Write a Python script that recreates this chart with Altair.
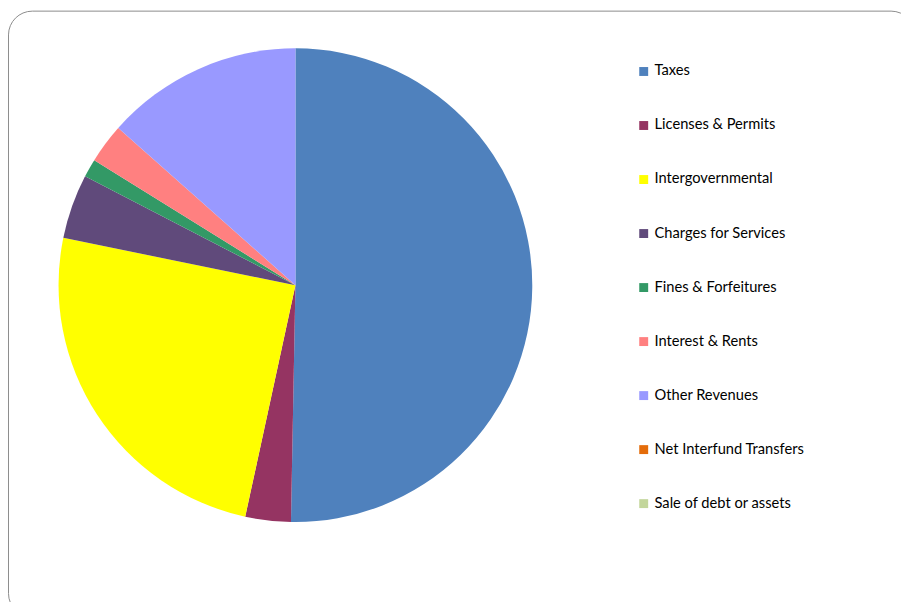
import altair as alt
import pandas as pd

categories = [
    "Taxes",
    "Licenses & Permits",
    "Intergovernmental",
    "Charges for Services",
    "Fines & Forfeitures",
    "Interest & Rents",
    "Other Revenues",
    "Net Interfund Transfers",
    "Sale of debt or assets",
]
shares = [50.3, 3.1, 24.8, 4.4, 1.25, 2.7, 13.45, 0.0, 0.0]
colors = ["#4F81BD", "#953462", "#FFFF00", "#604A7B", "#339966",
          "#FF8080", "#9999FF", "#E46C0A", "#C3D69B"]

df = pd.DataFrame({
    "category": categories,
    "share": shares,
    "order": list(range(len(categories))),
})

frame = alt.Chart(pd.DataFrame({"a": [0]})).mark_rect(
    fill="white", stroke="#8c8c8c", strokeWidth=1, cornerRadius=24
).encode(
    x=alt.value(0.5), x2=alt.value(915), y=alt.value(0.5), y2=alt.value(612)
)

pie = alt.Chart(df).mark_arc(radius=239).encode(
    theta=alt.Theta("share:Q", stack=True),
    order=alt.Order("order:Q"),
    color=alt.Color(
        "category:N",
        scale=alt.Scale(domain=categories, range=colors),
        legend=alt.Legend(
            title=None,
            orient="none",
            legendX=634,
            legendY=54,
            symbolType="square",
            symbolSize=81,
            symbolStrokeWidth=0,
            symbolOpacity=1,
            labelFontSize=14.8,
            labelFont="Lato",
            labelColor="#000000",
            labelOffset=3.5,
            rowPadding=38.5,
            padding=0,
        ),
    ),
    x=alt.value(290),
    y=alt.value(277),
)

chart = alt.layer(frame, pie).properties(
    width=901, height=594, autosize="none", padding=0
).configure_view(strokeWidth=0)

chart.save("out.html", embed_options={"renderer": "svg", "actions": False})
